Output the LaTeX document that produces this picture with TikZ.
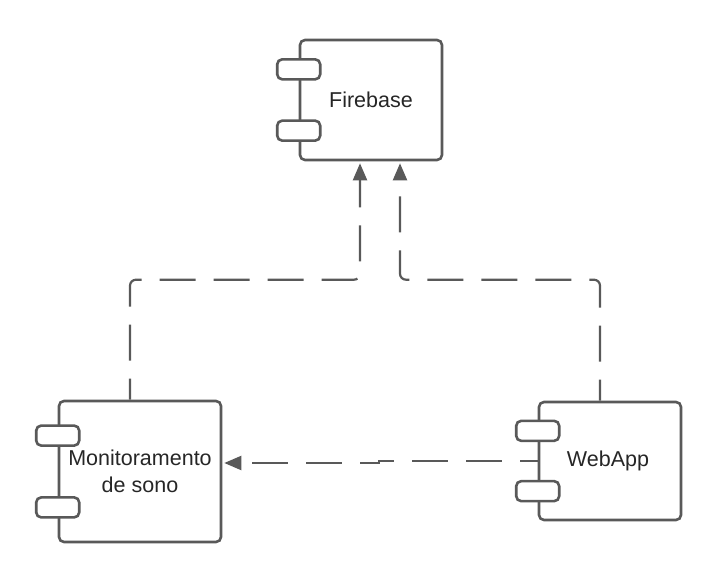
\documentclass[tikz,border=0pt]{standalone}
\usepackage{fontspec}
\setmainfont{Liberation Sans}
\usetikzlibrary{arrows.meta, calc}
\definecolor{umlgray}{HTML}{595959}
\tikzset{
component/.style={draw=umlgray, line width=2.6pt, rounded corners=5pt, align=center,
  text=black!85, font=\fontsize{21.5}{27}\selectfont, inner sep=0pt},
tab/.style={draw=umlgray, line width=2.6pt, fill=white, rounded corners=5pt,
  minimum width=43pt, minimum height=20pt, inner sep=0pt},
dep/.style={draw=umlgray, line width=2.2pt, dash pattern=on 36pt off 18pt, dash phase=15pt,
  rounded corners=6pt, -{Triangle[length=17pt, width=14pt]}, shorten >=2pt}
}
\begin{document}
\begin{tikzpicture}[x=1pt, y=1pt]
  \useasboundingbox (0,0) rectangle (720,581);
  \node[component, minimum width=142pt, minimum height=120pt] (firebase) at (371,481) {Firebase};
  \node[component, minimum width=162pt, minimum height=141pt] (monito) at (140,109.5) {Monitoramento\\de sono};
  \node[component, minimum width=142pt, minimum height=118pt] (webapp) at (610,120) {\hspace*{-4pt}WebApp};
  \foreach \c in {firebase,monito,webapp}
    \foreach \f/\n in {0.25/a,0.75/b}
      \node[tab] (\c-tab\n) at ($(\c.north west)!\f!(\c.south west)$) {};
  \draw[dep] ([xshift=-10pt]monito.north) -- ++(0,120) -| ([xshift=-11pt]firebase.south);
  \draw[dep] ([xshift=-10pt]webapp.north) -- ++(0,121) -| ([xshift=29pt]firebase.south);
  \draw[dep, rounded corners=0pt, dash phase=18pt] (webapp.west) -- ++(-159,0) |- ([yshift=8.5pt]monito.east);
\end{tikzpicture}
\end{document}
